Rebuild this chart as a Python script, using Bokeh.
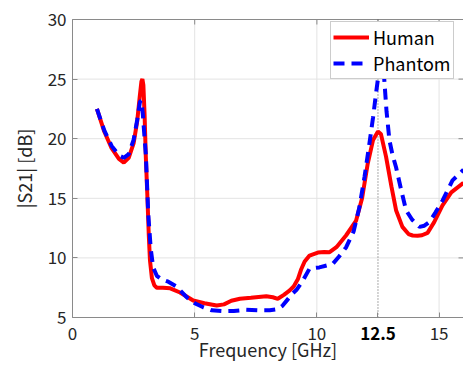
from bokeh.plotting import figure
from bokeh.models import Range1d, FixedTicker, Legend, LegendItem, LinearAxis
from bokeh.embed import file_html
from bokeh.resources import INLINE

# ---- data ----
human_f = [1.0, 1.3, 1.6, 1.9, 2.1, 2.3, 2.5, 2.65, 2.75, 2.82, 2.86, 2.9, 2.95, 3.0,
           3.06, 3.12, 3.17, 3.25, 3.35, 3.45, 3.7, 4.0, 4.4, 4.94, 5.4, 5.9, 6.2, 6.5,
           6.85, 7.3, 7.93, 8.2, 8.4, 8.65, 8.89, 9.05, 9.22, 9.35, 9.5, 9.7, 10.04,
           10.3, 10.52, 10.8, 11.2, 11.6, 11.85, 12.08, 12.3, 12.5, 12.62, 12.83, 13.05,
           13.24, 13.5, 13.75, 13.92, 14.12, 14.3, 14.53, 14.8, 15.14, 15.5, 16.0]
human_s21 = [22.5, 20.6, 19.2, 18.3, 18.0, 18.4, 19.6, 21.5, 23.5, 24.8, 25.0, 24.5, 22.0, 18.5,
             15.4, 12.0, 9.8, 8.3, 7.7, 7.5, 7.5, 7.45, 7.1, 6.43, 6.2, 6.0, 6.1, 6.4,
             6.57, 6.65, 6.79, 6.7, 6.57, 6.9, 7.27, 7.6, 8.2, 9.0, 9.7, 10.2, 10.45,
             10.5, 10.48, 10.9, 11.9, 13.1, 15.0, 17.9, 19.9, 20.6, 20.4, 18.5, 16.0,
             14.0, 12.6, 12.0, 11.88, 11.85, 11.9, 12.1, 13.0, 14.4, 15.5, 16.3]

phantom_f = [1.0, 1.3, 1.6, 1.9, 2.1, 2.3, 2.5, 2.65, 2.76, 2.82, 2.88, 2.95, 3.0, 3.1,
             3.2, 3.3, 3.45, 3.65, 3.92, 4.26, 4.67, 5.0, 5.35, 5.7, 6.16, 6.6, 7.1, 7.6,
             8.07, 8.4, 8.6, 8.8, 9.0, 9.16, 9.4, 9.7, 10.1, 10.65, 10.9, 11.2, 11.5,
             11.74, 11.95, 12.15, 12.3, 12.42, 12.55, 12.65, 12.75, 12.85, 12.97, 13.1,
             13.24, 13.45, 13.65, 13.9, 14.2, 14.4, 14.6, 14.85, 15.14, 15.55, 16.0]
phantom_s21 = [22.5, 20.7, 19.4, 18.6, 18.4, 18.7, 19.9, 21.6, 23.1, 23.2, 22.0, 20.0, 18.7, 13.7,
               10.8, 9.2, 8.5, 8.2, 8.0, 7.6, 6.7, 6.2, 5.86, 5.6, 5.53, 5.55, 5.65, 5.6,
               5.6, 5.7, 6.0, 6.5, 7.0, 7.3, 8.0, 9.1, 9.2, 9.5, 10.1, 10.9, 12.2,
               14.25, 16.8, 19.6, 21.8, 23.8, 25.8, 26.3, 25.2, 22.3, 19.85, 18.6,
               17.6, 15.7, 14.0, 13.2, 12.6, 12.7, 13.0, 13.8, 14.8, 16.5, 17.4]

x_ticks = [0, 5, 10, 15]
y_ticks = [5, 10, 15, 20, 25, 30]
x_lim = [0, 16]
y_lim = [5, 30]
marker_freq = 12.5

# ---- layout (pixels) ----
FIG_W, FIG_H = 463, 368
AX_LEFT, AX_TOP, AX_BOTTOM = 72, 19, 317   # where x=0, y=30 and y=5 sit
TICK_LEN = 5
px_x = (FIG_W - AX_LEFT) / (x_lim[1] - x_lim[0])
px_y = (AX_BOTTOM - AX_TOP) / (y_lim[1] - y_lim[0])
x_start = x_lim[0] - AX_LEFT / px_x
y_start = y_lim[0] - (FIG_H - AX_BOTTOM) / px_y
y_end = y_lim[1] + AX_TOP / px_y
LEGEND_LEFT, LEGEND_BOTTOM = 330, 79         # legend box corner in page pixels

FONT = "Noto Sans CJK JP"
TXT = "#262626"
AX = "#8a8a8a"
GRID = "#e3e3e3"

p = figure(width=FIG_W, height=FIG_H, output_backend="svg", toolbar_location=None,
           x_range=Range1d(x_start, x_lim[1]), y_range=Range1d(y_start, y_end),
           min_border_left=0, min_border_right=0, min_border_top=0, min_border_bottom=0)
p.background_fill_color = "white"
p.border_fill_color = "white"
p.outline_line_color = None
p.xgrid.visible = False
p.ygrid.visible = False

# grid lines and box (restricted to the axes area)
p.segment(x0=x_ticks[1:], y0=[y_lim[0]] * 3, x1=x_ticks[1:], y1=[y_lim[1]] * 3,
          line_color=GRID, line_width=1)
p.segment(x0=[x_lim[0]] * 4, y0=y_ticks[1:-1], x1=[x_lim[1]] * 4, y1=y_ticks[1:-1],
          line_color=GRID, line_width=1)
p.segment(x0=[x_lim[0], x_lim[1]], y0=[y_lim[1], y_lim[0]], x1=[x_lim[1], x_lim[1]],
          y1=[y_lim[1], y_lim[1]], line_color=AX, line_width=1)
# inward ticks on the top and right edges of the box
top_ticks = x_ticks + [marker_freq]
p.segment(x0=top_ticks, y0=[y_lim[1]] * len(top_ticks), x1=top_ticks,
          y1=[y_lim[1] - TICK_LEN / px_y] * len(top_ticks), line_color=AX, line_width=1)
p.segment(x0=[x_lim[1]] * len(y_ticks), y0=y_ticks,
          x1=[x_lim[1] - TICK_LEN / px_x] * len(y_ticks), y1=y_ticks,
          line_color=AX, line_width=1)
# marker line at 12.5 GHz
p.segment(x0=[marker_freq], y0=[y_lim[0]], x1=[marker_freq], y1=[y_lim[1]],
          line_color="#555555", line_width=1, line_dash="1 2")

# axes pinned at the data origin
xa = p.xaxis[0]
ya = p.yaxis[0]
xa.fixed_location = y_lim[0]
xa.bounds = tuple(x_lim)
ya.fixed_location = x_lim[0]
ya.bounds = tuple(y_lim)
xa.ticker = FixedTicker(ticks=x_ticks)
ya.ticker = FixedTicker(ticks=y_ticks)
for ax in (xa, ya):
    ax.axis_line_color = AX
    ax.major_tick_line_color = AX
    ax.major_tick_in = TICK_LEN
    ax.major_tick_out = 0
    ax.minor_tick_line_color = None
    ax.major_label_text_font = FONT
    ax.major_label_text_font_size = "17px"
    ax.major_label_text_color = TXT
    ax.axis_label_text_font = FONT
    ax.axis_label_text_font_size = "18px"
    ax.axis_label_text_font_style = "normal"
    ax.axis_label_text_color = TXT
xa.axis_label = "Frequency [GHz]"
ya.axis_label = "|S21| [dB]"
xa.major_label_standoff = 9
xa.axis_label_standoff = -7
ya.major_label_standoff = 6
ya.axis_label_standoff = 8

# bold tick for the marked frequency
bold_axis = LinearAxis(ticker=FixedTicker(ticks=[marker_freq]), fixed_location=y_lim[0],
                       bounds=tuple(x_lim), axis_line_color=None,
                       major_tick_line_color=AX, major_tick_in=TICK_LEN, major_tick_out=0,
                       minor_tick_line_color=None, major_label_standoff=9,
                       major_label_text_font=FONT, major_label_text_font_size="17px",
                       major_label_text_font_style="bold", major_label_text_color="#000000")
p.add_layout(bold_axis, "below")

r_h = p.line(human_f, human_s21, line_color="#ff0000", line_width=4)
r_p = p.line(phantom_f, phantom_s21, line_color="#0000ff", line_width=4, line_dash="11 7")

legend = Legend(items=[LegendItem(label="Human", renderers=[r_h]),
                       LegendItem(label="Phantom", renderers=[r_p])],
                location=(LEGEND_LEFT, FIG_H - LEGEND_BOTTOM))
legend.margin = 0
legend.padding = 2
legend.spacing = -4
legend.glyph_width = 36
legend.glyph_height = 20
legend.label_standoff = 4
legend.label_height = 20
legend.label_text_font = FONT
legend.label_text_font_size = "18px"
legend.label_text_color = "#000000"
legend.border_line_color = "#9a9a9a"
legend.border_line_width = 1
legend.background_fill_alpha = 1.0
p.add_layout(legend)

open("out.html", "w").write(file_html(p, INLINE))
